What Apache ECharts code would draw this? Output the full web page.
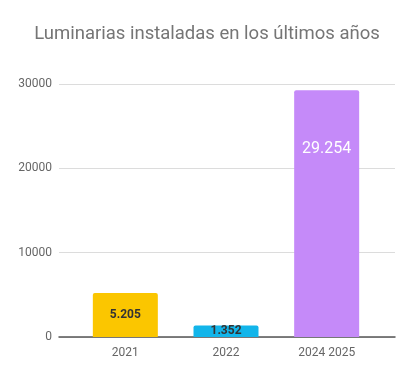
<!DOCTYPE html>
<html>
<head>
<meta charset="utf-8">
<script src="https://cdn.jsdelivr.net/npm/echarts@6/dist/echarts.min.js"></script>
<style>
  html, body { margin: 0; padding: 0; background: #fff; }
  #container { width: 414px; height: 377px; }
</style>
</head>
<body>
<div id="container"></div>
<script>
// datos del gráfico
const categories = ['2021', '2022', '2024 2025'];
const values = [5205, 1352, 29254];
const labels = ['5.205', '1.352', '29.254'];
const barColors = ['#FBC600', '#12B5EA', '#C58AF9'];
const yTicks = [0, 10000, 20000, 30000];

const chart = echarts.init(document.getElementById('container'));

const font = 'Roboto, "Open Sans", sans-serif';

const option = {
  backgroundColor: '#fff',
  animation: false,
  title: {
    text: 'Luminarias instaladas en los últimos años',
    left: 'center',
    top: 20,
    textStyle: { fontFamily: font, fontSize: 18.5, fontWeight: 'normal', color: '#757575' }
  },
  grid: [
    // rejilla ancha: solo líneas horizontales y etiquetas del eje Y
    { left: 59, right: 19, top: 84, bottom: 40 },
    // rejilla interior para las barras
    { left: 75, right: 37, top: 84, bottom: 40 }
  ],
  xAxis: [
    {
      gridIndex: 0, type: 'category', data: categories,
      axisLine: { show: true, lineStyle: { color: '#555', width: 1.5 } },
      axisTick: { show: false }, axisLabel: { show: false }
    },
    {
      gridIndex: 1, type: 'category', data: categories,
      axisLine: { show: false }, axisTick: { show: false },
      axisLabel: { fontFamily: font, fontSize: 12, color: '#666', margin: 10 }
    }
  ],
  yAxis: [
    {
      gridIndex: 0, type: 'value', min: 0, max: yTicks[yTicks.length - 1], interval: 10000,
      axisLine: { show: false }, axisTick: { show: false },
      axisLabel: { fontFamily: font, fontSize: 12, color: '#666', margin: 7, formatter: v => String(v) },
      splitLine: { lineStyle: { color: '#dcdcdc', width: 1 } }
    },
    {
      gridIndex: 1, type: 'value', min: 0, max: yTicks[yTicks.length - 1], interval: 10000,
      show: false, splitLine: { show: false }
    }
  ],
  series: [{
    type: 'bar',
    xAxisIndex: 1,
    yAxisIndex: 1,
    barWidth: 65,
    z: 3,
    data: values.map((v, i) => ({
      value: v,
      itemStyle: { color: barColors[i], borderRadius: [2, 2, 0, 0] },
      label: i === 2
        ? { show: true, position: 'insideTop', distance: 51, formatter: labels[i],
            fontFamily: font, fontSize: 16, color: '#fff', fontWeight: 'normal' }
        : { show: true, position: 'inside', formatter: labels[i],
            fontFamily: font, fontSize: 12, color: '#333', fontWeight: 'bold' }
    }))
  }]
};

chart.setOption(option);
</script>
</body>
</html>
